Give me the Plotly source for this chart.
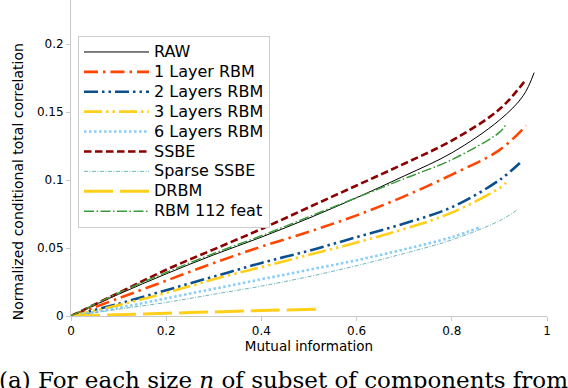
import plotly.graph_objects as go

# mutual information (x) and normalized conditional total correlation (y)
raw_x = [0.0, 0.1, 0.2, 0.3, 0.4, 0.5, 0.6, 0.7, 0.8, 0.9, 0.95, 0.973]
raw_y = [0.0, 0.016, 0.031, 0.045, 0.058, 0.072, 0.087, 0.103, 0.12, 0.144, 0.162, 0.179]

rbm1_x = [0.0, 0.1, 0.2, 0.3, 0.4, 0.5, 0.6, 0.7, 0.8, 0.9, 0.956]
rbm1_y = [0.0, 0.013, 0.026, 0.039, 0.051, 0.062, 0.074, 0.088, 0.104, 0.122, 0.140]

rbm2_x = [0.0, 0.1, 0.2, 0.3, 0.4, 0.5, 0.6, 0.7, 0.8, 0.9, 0.943]
rbm2_y = [0.0, 0.009, 0.019, 0.029, 0.039, 0.048, 0.058, 0.068, 0.080, 0.100, 0.1125]

rbm3_x = [0.0, 0.1, 0.2, 0.3, 0.4, 0.5, 0.6, 0.7, 0.8, 0.9, 0.914]
rbm3_y = [0.0, 0.008, 0.017, 0.027, 0.036, 0.045, 0.054, 0.064, 0.076, 0.094, 0.098]

rbm6_x = [0.0, 0.1, 0.2, 0.3, 0.4, 0.5, 0.6, 0.7, 0.8, 0.857]
rbm6_y = [0.0, 0.006, 0.013, 0.020, 0.027, 0.034, 0.041, 0.049, 0.058, 0.065]

ssbe_x = [0.0, 0.1, 0.2, 0.3, 0.4, 0.5, 0.6, 0.7, 0.8, 0.9, 0.956]
ssbe_y = [0.0, 0.017, 0.034, 0.049, 0.064, 0.080, 0.096, 0.112, 0.129, 0.152, 0.174]

sparse_x = [0.0, 0.1, 0.2, 0.3, 0.4, 0.5, 0.6, 0.7, 0.8, 0.9, 0.937]
sparse_y = [0.0, 0.005, 0.010, 0.016, 0.022, 0.029, 0.037, 0.046, 0.056, 0.070, 0.078]

drbm_x = [0.0, 0.1, 0.2, 0.3, 0.4, 0.517]
drbm_y = [0.0, 0.001, 0.002, 0.003, 0.004, 0.005]

rbm112_x = [0.0, 0.1, 0.2, 0.3, 0.4, 0.5, 0.6, 0.7, 0.8, 0.9, 0.914]
rbm112_y = [0.0, 0.017, 0.032, 0.046, 0.059, 0.073, 0.087, 0.101, 0.115, 0.135, 0.141]

series = [
    ("RAW", raw_x, raw_y, "#000000", 1, "solid"),
    ("1 Layer RBM", rbm1_x, rbm1_y, "#ff4500", 2.6, "14px,5px,2.5px,5px"),
    ("2 Layers RBM", rbm2_x, rbm2_y, "#0b4f8f", 2.6, "14px,4px,2.5px,4px,2.5px,4px"),
    ("3 Layers RBM", rbm3_x, rbm3_y, "#ffcf1a", 2.6, "18px,4px,2.5px,4px,2.5px,4px"),
    ("6 Layers RBM", rbm6_x, rbm6_y, "#87cefa", 2.6, "2.5px,2.5px"),
    ("SSBE", ssbe_x, ssbe_y, "#8b0000", 2.6, "7.5px,3.5px"),
    ("Sparse SSBE", sparse_x, sparse_y, "#6fb5bb", 1, "4px,1.5px,1px,1.5px"),
    ("DRBM", drbm_x, drbm_y, "#ffcf1a", 3, "29px,7px"),
    ("RBM 112 feat", rbm112_x, rbm112_y, "#3a9a3a", 1.5, "10px,2.5px,1.5px,2.5px"),
]

fig = go.Figure()
for name, xs, ys, color, width, dash in series:
    fig.add_trace(go.Scatter(
        x=xs, y=ys, mode="lines",
        name='<span style="font-size:16px">' + name + "</span>",
        line=dict(color=color, width=width, dash=dash, shape="spline"),
    ))

axis_style = dict(
    showgrid=False, zeroline=False, showline=True, linecolor="#c8c8c8", linewidth=1,
    ticks="outside", ticklen=4, tickcolor="#c8c8c8", automargin=False,
    tickfont=dict(family="DejaVu Sans", size=12, color="#000"),
)

fig.update_xaxes(
    range=[0, 1], tickvals=[0, 0.2, 0.4, 0.6, 0.8, 1],
    title=dict(text="Mutual information", font=dict(family="DejaVu Sans", size=13.5, color="#000"), standoff=4),
    **axis_style
)
fig.update_yaxes(
    range=[0, 0.2324], tickvals=[0, 0.05, 0.1, 0.15, 0.2],
    **axis_style
)

# y label sits a bit below the middle of the visible axis, as in the source
fig.add_annotation(
    text="Normalized conditional total correlation",
    xref="paper", yref="paper", x=-0.111, y=0.424, xanchor="center", yanchor="middle",
    textangle=-90, showarrow=False,
    font=dict(family="DejaVu Sans", size=14, color="#000"),
)

# figure caption, cut off by the bottom edge like in the source image
fig.add_annotation(
    text="(a) For each size <i>n</i> of subset of components from",
    xref="paper", yref="paper", x=-0.155, y=-0.155, xanchor="left", yanchor="top",
    showarrow=False, font=dict(family="DejaVu Serif", size=23, color="#000"),
)

fig.update_layout(
    width=568, height=388,
    margin=dict(l=71, r=21, t=0, b=72),
    plot_bgcolor="white", paper_bgcolor="white",
    font=dict(family="DejaVu Sans"),
    legend=dict(
        x=0.0147, y=0.886, xanchor="left", yanchor="top",
        bgcolor="white", bordercolor="#cccccc", borderwidth=1,
        font=dict(family="DejaVu Sans", size=13, color="#000"),
        itemwidth=65, tracegroupgap=0,
    ),
)

fig.write_html("out.html", config={"displayModeBar": False},
               post_script="document.body.style.margin='0';")
